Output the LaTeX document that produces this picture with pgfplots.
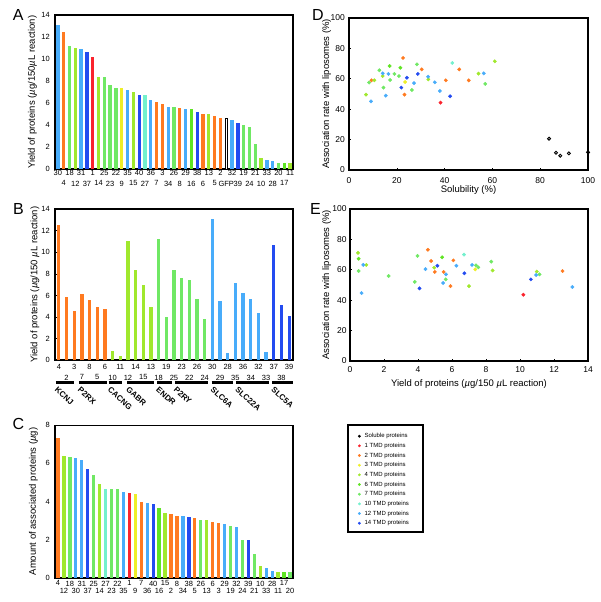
\documentclass[border=0pt]{standalone}
\usepackage{fontspec}
\setmainfont{Liberation Sans}
\usepackage{pgfplots}
\pgfplotsset{compat=1.18}

% one colour per TMD class
\definecolor{cOne}{RGB}{250,35,45}
\definecolor{cTwo}{RGB}{255,122,32}
\definecolor{cThree}{RGB}{238,238,40}
\definecolor{cFour}{RGB}{160,232,45}
\definecolor{cSix}{RGB}{95,228,35}
\definecolor{cSeven}{RGB}{112,232,100}
\definecolor{cTen}{RGB}{115,240,205}
\definecolor{cTwelve}{RGB}{72,172,250}
\definecolor{cFourteen}{RGB}{35,75,240}

\newcommand{\mufont}{{\itshape µ}}

\pgfplotsset{
  panel/.style={scale only axis, anchor=south west,
    axis line style={line width=1.6pt},
    tick align=inside, tick pos=left, major tick length=2pt,
    major tick style={line width=0.6pt,black},
    /pgf/number format/assume math mode=true,
    every axis y label/.style={rotate=90,anchor=center,
      font=\fontsize{9.5}{11}\selectfont},
    every axis x label/.style={anchor=center,
      font=\fontsize{9.5}{11}\selectfont}},
  barpanel/.style={panel, width=238pt, ymin=0,
    xtick style={draw=none},
    tick label style={font=\fontsize{7.5}{8}\selectfont},
    yticklabel style={inner sep=0pt,xshift=-5pt},
    xticklabel style={inner sep=0pt}},
  bar/.style={ycomb, draw=#1, line width=3.3pt},
  dot/.style={only marks, mark=*, mark size=1.7pt, color=#1},
}

\begin{document}
\begin{tikzpicture}[x=1pt,y=1pt]
\path[use as bounding box] (0,0) rectangle (600,602);

% ---------- A: yield, sorted ----------
\begin{axis}[barpanel, at={(55pt,432.7pt)}, height=154pt,
  xmin=-0.5, xmax=40.5, ymax=14, ytick={0,2,...,14},
  xtick={0,2,...,40},
  xticklabels={30,18,31,1,25,22,35,40,36,3,26,29,38,13,2,32,19,21,33,20,11},
  extra x ticks={1,3,...,39},
  extra x tick labels={4,12,37,14,23,9,15,27,7,34,8,16,6,5,GFP,39,24,10,28,17},
  xticklabel style={yshift=-1pt},
  extra x tick style={grid=none, major tick length=0pt,
    xticklabel style={yshift=-10.3pt}},
  ylabel={Yield of proteins (\mufont g/150\mufont L reaction)},
  ylabel style={at={(axis description cs:-0.0954,0.5)}}]
\addplot[bar=cOne] coordinates {(6,10.23)};
\addplot[bar=cTwo] coordinates {(1,12.51)(17,6.13)(18,5.95)(21,5.59)(25,5.04)(27,4.83)(28,4.68)};
\addplot[bar=cThree] coordinates {(11,7.38)};
\addplot[bar=cFour] coordinates {(3,11.02)(7,8.41)(13,7.01)(26,5.01)(35,1.03)(40,0.55)};
\addplot[bar=cSix] coordinates {(23,5.47)(39,0.58)};
\addplot[bar=cSeven] coordinates {(2,11.18)(8,8.38)(9,7.62)(10,7.41)(20,5.68)(32,4.04)(33,3.89)(34,2.31)(38,0.58)};
\addplot[bar=cTen] coordinates {(15,6.74)};
\addplot[bar=cTwelve] coordinates {(0,13.09)(4,10.96)(12,7.23)(16,6.32)(19,5.68)(22,5.50)(30,4.49)(36,0.85)(37,0.76)};
\addplot[bar=cFourteen] coordinates {(5,10.66)(14,6.77)(24,5.22)(31,4.22)};
% GFP control
\addplot[ybar, bar width=2.6pt, fill=white, draw=black, line width=0.8pt] coordinates {(29,4.59)};
\end{axis}

% ---------- B: yield by family ----------
\begin{axis}[barpanel, at={(55pt,241.7pt)}, height=151.3pt, clip=false,
  xmin=-0.5, xmax=30.5, ymax=14, ytick={0,2,...,14},
  xtick={0,2,...,30},
  xticklabels={4,3,8,6,11,14,13,19,23,26,30,28,36,32,37,39},
  extra x ticks={1,3,...,29},
  extra x tick labels={2,7,5,10,12,15,18,25,22,24,29,35,34,33,38},
  xticklabel style={yshift=-3.7pt},
  extra x tick style={grid=none, major tick length=0pt,
    xticklabel style={yshift=-10.6pt}},
  ylabel={Yield of proteins (\mufont g/150 \mufont L reaction)},
  ylabel style={at={(axis description cs:-0.084,0.5)}}]
\addplot[bar=cTwo] coordinates {(0,12.5)(1,5.9)(2,4.55)(3,6.1)(4,5.55)(5,4.95)(6,4.75)};
\addplot[bar=cFour] coordinates {(7,0.9)(8,0.4)(9,11.0)(10,8.4)(11,7.0)(12,4.95)};
\addplot[bar=cSeven] coordinates {(13,11.2)(14,4.0)(15,8.35)(16,7.6)(17,7.45)(18,5.65)(19,3.8)};
\addplot[bar=cTwelve] coordinates {(20,13.07)(21,5.5)(22,0.7)(23,7.15)(24,6.2)(25,5.65)(26,4.4)(27,0.75)};
\addplot[bar=cFourteen] coordinates {(28,10.65)(29,5.15)(30,4.1)};
% family brackets
\draw[line width=2.6pt] (axis cs:-0.37,-2.08) -- (axis cs:1.97,-2.08);
\draw[line width=2.6pt] (axis cs:2.6,-2.08) -- (axis cs:6.27,-2.08);
\draw[line width=2.6pt] (axis cs:6.5,-2.08) -- (axis cs:8.2,-2.08);
\draw[line width=2.6pt] (axis cs:8.9,-2.08) -- (axis cs:12.4,-2.08);
\draw[line width=2.6pt] (axis cs:12.8,-2.08) -- (axis cs:14.7,-2.08);
\draw[line width=2.6pt] (axis cs:15.1,-2.08) -- (axis cs:19.4,-2.08);
\draw[line width=2.6pt] (axis cs:19.9,-2.08) -- (axis cs:22.7,-2.08);
\draw[line width=2.6pt] (axis cs:23.1,-2.08) -- (axis cs:27.4,-2.08);
\draw[line width=2.6pt] (axis cs:27.8,-2.08) -- (axis cs:30.5,-2.08);
\begin{scope}[every node/.style={rotate=-42, anchor=north west, inner sep=0pt,
    font=\bfseries\fontsize{8}{9}\selectfont}]
\node at (axis cs:-0.1,-2.4) {KCNJ};
\node at (axis cs:2.9,-2.4) {P2RX};
\node at (axis cs:6.8,-2.4) {CACNG};
\node at (axis cs:9.2,-2.4) {GABR};
\node at (axis cs:13.1,-2.4) {ENDR};
\node at (axis cs:15.4,-2.4) {P2RY};
\node at (axis cs:20.2,-2.4) {SLC6A};
\node at (axis cs:23.4,-2.4) {SLC22A};
\node at (axis cs:28.1,-2.4) {SLC5A};
\end{scope}
\end{axis}

% ---------- C: associated amount ----------
\begin{axis}[barpanel, at={(55pt,24.3pt)}, height=152.4pt,
  xmin=-0.5, xmax=39.5, ymax=8, ytick={0,2,...,8},
  xtick={0,2,...,38},
  xticklabels={4,18,31,25,27,22,1,7,40,15,8,38,26,6,29,32,39,10,28,17},
  extra x ticks={1,3,...,39},
  extra x tick labels={12,30,37,14,23,35,9,36,16,2,34,5,13,3,19,24,21,33,11,20},
  xticklabel style={yshift=-2.9pt},
  extra x tick style={grid=none, major tick length=0pt,
    xticklabel style={yshift=-7.7pt}},
  ylabel={Amount of associated proteins (\mufont g)},
  ylabel style={at={(axis description cs:-0.091,0.5)}}]
\addplot[bar=cOne] coordinates {(12,4.45)};
\addplot[bar=cTwo] coordinates {(0,7.34)(14,3.99)(19,3.33)(20,3.22)(23,3.12)(26,2.92)(27,2.87)};
\addplot[bar=cThree] coordinates {(13,4.40)};
\addplot[bar=cFour] coordinates {(1,6.39)(7,4.94)(18,3.40)(25,3.03)(34,0.60)(37,0.32)};
\addplot[bar=cSix] coordinates {(17,3.66)(38,0.32)};
\addplot[bar=cSeven] coordinates {(2,6.32)(6,5.39)(9,4.64)(10,4.64)(24,3.03)(29,2.73)(31,1.98)(33,1.26)(39,0.30)};
\addplot[bar=cTen] coordinates {(8,4.68)};
\addplot[bar=cTwelve] coordinates {(3,6.30)(4,6.18)(11,4.50)(15,3.91)(21,3.22)(28,2.82)(30,2.68)(35,0.49)(36,0.33)};
\addplot[bar=cFourteen] coordinates {(5,5.69)(16,3.87)(22,3.19)(32,1.98)};
\end{axis}

% ---------- D: solubility vs association ----------
\begin{axis}[panel, at={(349pt,432pt)}, width=239pt, height=152pt, clip=false,
  xmin=0, xmax=100, ymin=0, ymax=100,
  xtick={0,20,...,100}, ytick={0,20,...,100},
  tick label style={font=\fontsize{8.5}{9}\selectfont},
  xticklabel style={inner sep=0pt,yshift=-7pt},
  yticklabel style={inner sep=0pt,xshift=-4pt},
  xlabel={Solubility (\%)},
  xlabel style={at={(axis description cs:0.5,-0.1316)}},
  ylabel={Association rate with liposomes (\%)},
  ylabel style={at={(axis description cs:-0.0933,0.5)}}]
\addplot[only marks, mark=o, mark size=1.5pt, black, line width=0.9pt] coordinates {(83.7,20.6)(86.6,11.4)(88.4,9.4)(92.0,11.0)(100,11.6)};
\addplot[dot=cOne] coordinates {(38.3,44.3)};
\addplot[dot=cTwo] coordinates {(9.4,59.0)(22.6,73.7)(23.2,49.6)(30.4,66.2)(40.5,59.0)(46.1,66.2)(50.1,59.0)};
\addplot[dot=cThree] coordinates {(23.5,57.9)};
\addplot[dot=cFour] coordinates {(7.1,49.6)(10.6,59.0)(14.1,61.8)(33.2,59.6)(54.2,63.4)(61.0,71.5)};
\addplot[dot=cSix] coordinates {(17.0,68.4)(21.5,67.3)};
\addplot[dot=cSeven] coordinates {(8.4,57.5)(12.7,65.6)(14.4,54.2)(17.2,59.2)(19.0,63.2)(20.9,61.8)(26.3,52.6)(28.4,69.5)(57.0,56.6)};
\addplot[dot=cTen] coordinates {(43.2,70.4)};
\addplot[dot=cTwelve] coordinates {(9.2,45.2)(14.1,63.6)(15.4,48.9)(16.5,63.2)(27.2,57.2)(33.1,61.4)(35.9,57.7)(38.0,52.0)(56.4,63.6)};
\addplot[dot=cFourteen] coordinates {(21.9,54.2)(24.2,60.7)(28.8,63.2)(42.3,48.5)};
\end{axis}

% ---------- E: yield vs association, plus shared legend ----------
\begin{axis}[panel, at={(350pt,241pt)}, width=238pt, height=152pt,
  xmin=0, xmax=14, ymin=0, ymax=100,
  xtick={0,2,...,14}, ytick={0,20,...,100},
  tick label style={font=\fontsize{8.5}{9}\selectfont},
  xticklabel style={inner sep=0pt,yshift=-5pt},
  yticklabel style={inner sep=0pt,xshift=-3.3pt},
  xlabel={Yield of proteins (\mufont g/150 \mufont L reaction)},
  xlabel style={at={(axis description cs:0.5,-0.153)}},
  ylabel={Association rate with liposomes (\%)},
  ylabel style={at={(axis description cs:-0.098,0.5)}},
  legend image code/.code={\draw[#1,mark size=1.2pt] plot coordinates {(0pt,0pt)};},
  legend cell align=left,
  legend style={at={(axis description cs:0.0336,-0.467)}, anchor=north west,
    draw=none, fill=none, font=\fontsize{6}{7}\selectfont,
    row sep=1.67pt, column sep=3pt, inner sep=0pt,
    nodes={inner sep=1pt, text height=4.5pt, text depth=1.5pt}}]
\addplot[dot=cOne, forget plot] coordinates {(10.2,43.6)};
\addplot[dot=cTwo, forget plot] coordinates {(4.58,73.2)(4.77,65.8)(4.99,58.6)(5.51,58.6)(5.91,49.3)(6.08,66.2)(12.5,59.2)};
\addplot[dot=cThree, forget plot] coordinates {(7.37,60.3)};
\addplot[dot=cFour, forget plot] coordinates {(0.47,71.1)(0.96,63.2)(4.95,61.4)(7.0,49.3)(8.39,59.6)(10.99,58.8)};
\addplot[dot=cSix, forget plot] coordinates {(0.51,67.3)(5.42,68.2)};
\addplot[dot=cSeven, forget plot] coordinates {(0.51,59.2)(2.27,55.9)(3.81,52.0)(3.97,69.1)(5.63,53.7)(7.41,62.9)(7.55,61.6)(8.31,65.4)(11.15,57.0)};
\addplot[dot=cTen, forget plot] coordinates {(6.71,70.0)};
\addplot[dot=cTwelve, forget plot] coordinates {(0.68,44.7)(0.78,63.2)(4.44,60.5)(5.48,51.3)(5.65,57.0)(6.26,62.7)(7.18,63.2)(10.95,56.6)(13.08,48.7)};
\addplot[dot=cFourteen, forget plot] coordinates {(4.09,47.8)(5.14,62.7)(6.73,57.7)(10.64,53.7)};
\addlegendimage{only marks, mark=*, black}
\addlegendimage{only marks, mark=*, cOne}
\addlegendimage{only marks, mark=*, cTwo}
\addlegendimage{only marks, mark=*, cThree}
\addlegendimage{only marks, mark=*, cFour}
\addlegendimage{only marks, mark=*, cSix}
\addlegendimage{only marks, mark=*, cSeven}
\addlegendimage{only marks, mark=*, cTen}
\addlegendimage{only marks, mark=*, cTwelve}
\addlegendimage{only marks, mark=*, cFourteen}
\legend{Soluble proteins, 1 TMD proteins, 2 TMD proteins, 3 TMD proteins,
  4 TMD proteins, 6 TMD proteins, 7 TMD proteins, 10 TMD proteins,
  12 TMD proteins, 14 TMD proteins}
\end{axis}

% legend frame and panel letters
\draw[line width=1.6pt] (348,70) rectangle (423,177);
\begin{scope}[every node/.style={font=\fontsize{16}{16}\selectfont, inner sep=0pt}]
\node at (18.3,587) {A};
\node at (18.5,393) {B};
\node at (18.5,178) {C};
\node at (318,587) {D};
\node at (315.5,393) {E};
\end{scope}
\end{tikzpicture}
\end{document}
